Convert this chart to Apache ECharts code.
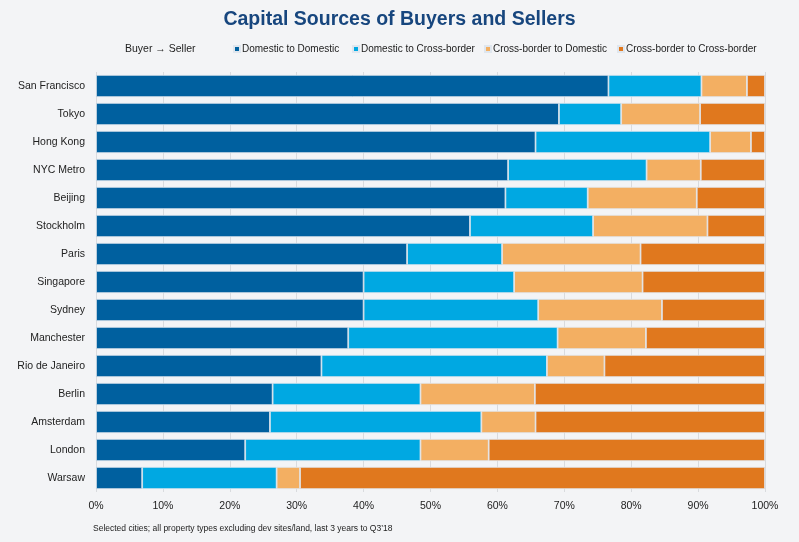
<!DOCTYPE html>
<html><head><meta charset="utf-8">
<script src="https://cdn.jsdelivr.net/npm/echarts@6/dist/echarts.min.js"></script>
<style>html,body{margin:0;padding:0;background:#f3f4f6}#c{width:799px;height:542px}</style>
</head><body><div id="c"></div>
<script>
const cities = ['San Francisco','Tokyo','Hong Kong','NYC Metro','Beijing','Stockholm','Paris','Singapore','Sydney','Manchester','Rio de Janeiro','Berlin','Amsterdam','London','Warsaw'];
const domDom   = [76.6, 69.2, 65.7, 61.6, 61.2, 55.9, 46.5, 40.0, 40.0, 37.7, 33.7, 26.4, 26.0, 22.3, 6.9];
const domCross = [13.9,  9.3, 26.1, 20.7, 12.3, 18.4, 14.2, 22.5, 26.1, 31.3, 33.7, 22.1, 31.6, 26.2, 20.1];
const crossDom = [ 6.8, 11.8,  6.1,  8.1, 16.3, 17.1, 20.7, 19.2, 18.5, 13.2,  8.6, 17.1,  8.1, 10.2, 3.5];
const crossCross=[ 2.7,  9.7,  2.1,  9.6, 10.2,  8.6, 18.6, 18.3, 15.4, 17.8, 24.0, 34.4, 34.3, 41.3, 69.5];
const seriesNames = ['Domestic to Domestic','Domestic to Cross-border','Cross-border to Domestic','Cross-border to Cross-border'];
const colors = ['#00609f','#00a8e2','#f3af62','#e0781e'];
const font = '"Liberation Sans",Arial,sans-serif';
const legendLeft = [233, 352, 484, 617];
const chart = echarts.init(document.getElementById('c'));
const data = [domDom, domCross, crossDom, crossCross];
chart.setOption({
  backgroundColor:'#f3f4f6',
  title:{text:'Capital Sources of Buyers and Sellers',left:'center',top:5,
    textStyle:{color:'#17467e',fontSize:19.5,fontWeight:'bold',fontFamily:font}},
  graphic:[
    {type:'text',left:125,top:44,style:{text:'Buyer \u2192 Seller',fill:'#222',fontSize:10.5,fontFamily:font}},
    {type:'text',left:93,top:524,style:{text:'Selected cities; all property types excluding dev sites/land, last 3 years to Q3\u201918',fill:'#222',fontSize:8.5,fontFamily:font}}
  ],
  legend:seriesNames.map((n,i)=>({left:legendLeft[i],top:44,itemWidth:6,itemHeight:6,icon:'rect',padding:0,
    textStyle:{color:'#222',fontSize:10,fontFamily:font,padding:[0,0,0,-3]},data:[n]})),
  grid:{left:96,right:34,top:72,bottom:50},
  xAxis:{type:'value',min:0,max:100,interval:10,
    axisLabel:{formatter:'{value}%',color:'#222',fontSize:10.5,fontFamily:font,margin:9},
    axisLine:{show:false},axisTick:{show:false},
    splitLine:{lineStyle:{color:'#d9dbde',width:1}}},
  yAxis:{type:'category',data:cities,inverse:true,
    axisLabel:{color:'#222',fontSize:10.5,fontFamily:font,margin:11},
    axisLine:{show:false},axisTick:{show:false}},
  series:data.map((d,i)=>({name:seriesNames[i],type:'bar',stack:'a',data:d,barCategoryGap:'21%',
    itemStyle:{color:colors[i],borderColor:'#dfe6ee',borderWidth:0.8}}))
});
</script></body></html>
